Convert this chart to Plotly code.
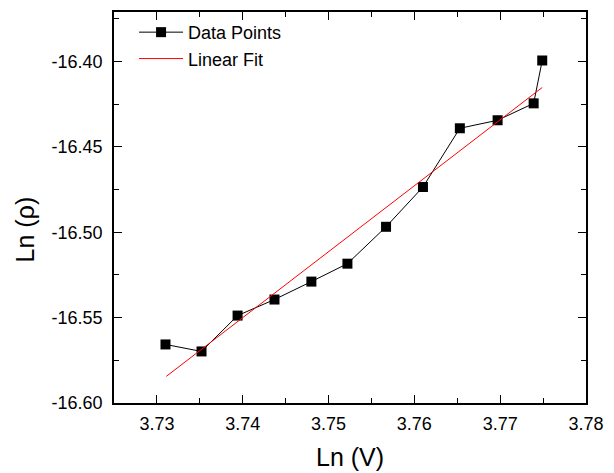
import plotly.graph_objects as go

ln_v = [3.7310, 3.7352, 3.7394, 3.7437, 3.7480, 3.7522, 3.7567, 3.7610, 3.7653, 3.7697, 3.7739, 3.7749]
ln_rho = [-16.5657, -16.5698, -16.5488, -16.5394, -16.5289, -16.5184, -16.4968, -16.4735, -16.4391, -16.4344, -16.4245, -16.3994]

fit_x = [3.7311, 3.7749]
fit_y = [-16.5844, -16.4152]

x_ticks = [3.73, 3.74, 3.75, 3.76, 3.77, 3.78]
y_ticks = [-16.40, -16.45, -16.50, -16.55, -16.60]

FONT = "Liberation Sans, Arial, sans-serif"

W, H = 614, 473
ML, MR, MT, MB = 114, 20, 10, 70
PW, PH = W - ML - MR, H - MT - MB

fig = go.Figure()
fig.add_trace(go.Scatter(
    x=ln_v, y=ln_rho, mode="lines+markers", name="Data Points",
    line=dict(color="black", width=1),
    marker=dict(symbol="square", size=10, color="black"),
))
fig.add_trace(go.Scatter(
    x=fit_x, y=fit_y, mode="lines", name="Linear Fit",
    line=dict(color="red", width=1),
))

axis_common = dict(
    showline=True, linecolor="black", linewidth=1.5, mirror="ticks",
    ticks="inside", ticklen=8, tickwidth=1.3, tickcolor="black",
    showgrid=False, zeroline=False,
    tickfont=dict(family=FONT, size=18, color="black"),
)

fig.update_xaxes(
    range=[3.725, 3.78], tickvals=x_ticks, ticktext=[f"{v:.2f}" for v in x_ticks],
    minor=dict(dtick=0.005, tick0=3.725, ticks="inside", ticklen=5, tickcolor="black", tickwidth=1.3),
    ticklabelstandoff=4,
    **axis_common,
)
fig.update_yaxes(
    range=[-16.60, -16.371], tickvals=y_ticks, ticktext=[f"{v:.2f}" for v in y_ticks],
    minor=dict(dtick=0.025, tick0=-16.60, ticks="inside", ticklen=5, tickcolor="black", tickwidth=1.3),
    ticklabelstandoff=6,
    **axis_common,
)

fig.add_annotation(
    text="Ln (V)", xref="paper", yref="paper",
    x=(354 - ML) / PW, y=(H - MB - 457) / PH, xanchor="center", yanchor="middle",
    showarrow=False, font=dict(family=FONT, size=25, color="black"),
)
fig.add_annotation(
    text="Ln (ρ)", xref="paper", yref="paper", textangle=-90,
    x=(23 - ML) / PW, y=(H - MB - 229) / PH, xanchor="center", yanchor="middle",
    showarrow=False, font=dict(family=FONT, size=25, color="black"),
)

fig.update_layout(
    width=W, height=H,
    margin=dict(l=ML, r=MR, t=MT, b=MB),
    plot_bgcolor="white", paper_bgcolor="white",
    showlegend=True,
    legend=dict(x=0.0425, y=0.995, xanchor="left", yanchor="top",
                font=dict(family=FONT, size=18, color="black"),
                bgcolor="rgba(0,0,0,0)", tracegroupgap=0, itemwidth=44),
)

fig.write_html("out.html", config={"displayModeBar": False},
               post_script="document.body.style.margin='0px';")
